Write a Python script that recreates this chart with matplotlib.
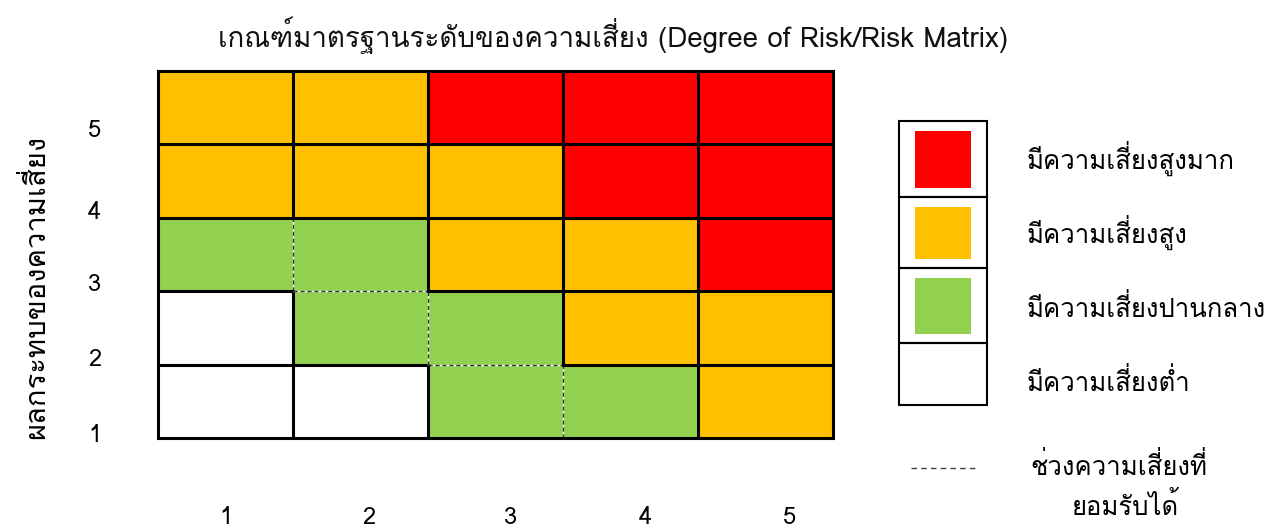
import matplotlib
matplotlib.use("Agg")
import matplotlib.pyplot as plt
from matplotlib.colors import ListedColormap
from matplotlib.patches import Rectangle
import numpy as np

plt.rcParams['font.family'] = ['Loma', 'DejaVu Sans']

title = "เกณฑ์มาตรฐานระดับของความเสี่ยง (Degree of Risk/Risk Matrix)"
y_label = "ผลกระทบของความเสี่ยง"
likelihood = [1, 2, 3, 4, 5]
impact = [1, 2, 3, 4, 5]
# risk level of each cell, rows = impact 1..5 (bottom up), cols = likelihood 1..5
# 0 = low, 1 = medium, 2 = high, 3 = very high
levels = [
    [0, 0, 1, 1, 2],
    [0, 1, 1, 2, 2],
    [1, 1, 2, 2, 3],
    [2, 2, 2, 3, 3],
    [2, 2, 3, 3, 3],
]
level_names = ["มีความเสี่ยงต่ำ", "มีความเสี่ยงปานกลาง", "มีความเสี่ยงสูง", "มีความเสี่ยงสูงมาก"]
level_colors = ["#FFFFFF", "#92D050", "#FFC000", "#FF0000"]
acceptable_label = ["ช่วงความเสี่ยงที่", "ยอมรับได้"]
# cell edges of the acceptable range, drawn dashed (grid units)
acceptable_edges = [(0, 3, 2, 3), (1, 2, 1, 3), (1, 2, 2, 2),
                    (2, 1, 2, 2), (2, 1, 3, 1), (3, 0, 3, 1)]

W, H = 1271, 528
fig = plt.figure(figsize=(W / 100, H / 100), dpi=100)

### matrix
ax = fig.add_axes([158 / W, (H - 438) / H, 675 / W, 367 / H])
n = len(likelihood)
ax.pcolormesh(np.arange(n + 1), np.arange(n + 1), np.array(levels),
              cmap=ListedColormap(level_colors), vmin=-0.5, vmax=3.5)

for k in range(1, n):
    for j in range(n):
        # vertical segment x=k and horizontal segment y=k
        for seg in [(k, j, k, j + 1), (j, k, j + 1, k)]:
            xs, ys = [seg[0], seg[2]], [seg[1], seg[3]]
            if seg in acceptable_edges:
                ax.plot(xs, ys, color='white', lw=1.0, solid_capstyle='butt')
                ax.plot(xs, ys, color='#333333', lw=1.0, dashes=(3, 2))
            else:
                ax.plot(xs, ys, color='black', lw=2.2, solid_capstyle='projecting')

ax.set_xlim(0, n)
ax.set_ylim(0, n)
for s in ax.spines.values():
    s.set_linewidth(2.2)
    s.set_color('black')

xtick_pos = [0.5, 1.56, 2.61, 3.61, 4.68]
ytick_pos = [0.07, 1.1, 2.13, 3.11, 4.22]
ax.set_xticks(xtick_pos, [str(v) for v in likelihood])
ax.set_yticks(ytick_pos, [str(v) for v in impact])
ax.tick_params(axis='x', length=0, pad=49, labelsize=17)
ax.tick_params(axis='y', length=0, pad=41, labelsize=17)
ax.set_ylabel(y_label, fontsize=21)
ax.yaxis.set_label_coords((50 - 158) / 675, (438 - 287) / 367)

fig.text(613 / W, 1 - 35 / H, title, ha='center', va='center', fontsize=20,
         color='#111111')

### legend
lg = fig.add_axes([0, 0, 1, 1])
lg.set_xlim(0, W)
lg.set_ylim(H, 0)
lg.axis('off')
row_edges = [121, 197, 268, 343, 405]
label_y = [158, 232, 308, 382]
for i, lvl in enumerate(reversed(range(len(level_names)))):
    top, bot = row_edges[i], row_edges[i + 1]
    lg.add_patch(Rectangle((899, top), 88, bot - top, fill=False, ec='black', lw=1.5))
    if level_colors[lvl] != "#FFFFFF":
        lg.add_patch(Rectangle((915, top + 10), 56, bot - top - 19,
                               fc=level_colors[lvl], ec='none'))
    lg.text(1027, label_y[i], level_names[lvl], ha='left', va='center', fontsize=18.5)

lg.plot([911, 975], [468, 468], color='#404040', lw=1, dashes=(4, 3))
lg.text(1030, 466, acceptable_label[0], ha='left', va='center', fontsize=18.5)
lg.text(1125, 506, acceptable_label[1], ha='center', va='center', fontsize=18.5)

fig.savefig("out.png")
